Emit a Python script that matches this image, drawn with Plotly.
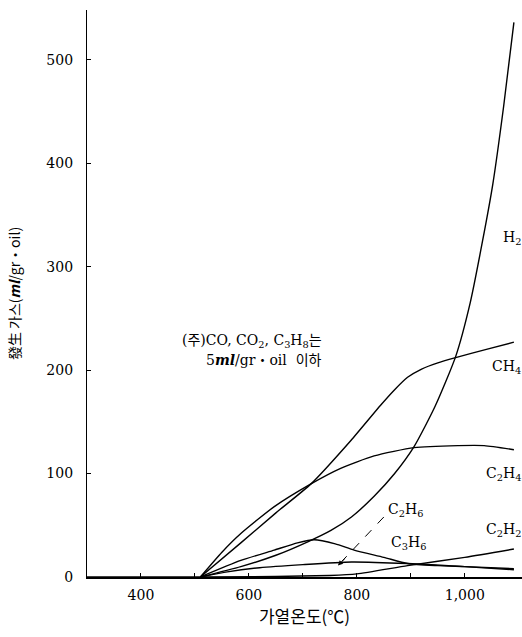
import plotly.graph_objects as go

# ---- data ----
t_h2 = [510, 585, 650, 709, 752, 790, 832, 870, 906, 945, 983, 1010, 1033, 1052, 1072, 1091]
v_h2 = [0, 10, 21, 34, 45, 58, 78, 100, 126, 165, 213, 265, 325, 380, 455, 536]

t_ch4 = [510, 585, 650, 715, 789, 844, 870, 894, 920, 950, 983, 1040, 1091]
v_ch4 = [0, 33, 62, 90, 132, 166, 181, 193, 201, 207, 212, 220, 227]

t_c2h4 = [510, 550, 585, 647, 715, 770, 832, 906, 987, 1036, 1091]
v_c2h4 = [0, 24, 42, 68, 90, 105, 117, 125, 127, 127, 123]

t_c3h6 = [510, 585, 647, 690, 721, 760, 795, 850, 894, 950, 1000, 1091]
v_c3h6 = [0, 16, 26, 33, 36, 32, 26, 19, 13, 11, 10, 8]

t_c2h6 = [510, 560, 620, 700, 790, 894, 1000, 1091]
v_c2h6 = [0, 5, 9, 12, 14.5, 13, 10, 7]

t_c2h2 = [510, 650, 750, 800, 894, 1000, 1091]
v_c2h2 = [0, 0.5, 1.5, 3, 11, 19, 27]

t_base = [300, 510]
v_base = [0, 0]

x_tickvals = [400, 600, 800, 1000]
x_ticktext = ["400", "600", "800", "1,000"]
x_minor = [500, 700, 900]
y_tickvals = [0, 100, 200, 300, 400, 500]
y_ticktext = ["0", "100", "200", "300", "400", "500"]

series = [
    ("H2", t_h2, v_h2),
    ("CH4", t_ch4, v_ch4),
    ("C2H4", t_c2h4, v_c2h4),
    ("C3H6", t_c3h6, v_c3h6),
    ("C2H6", t_c2h6, v_c2h6),
    ("C2H2", t_c2h2, v_c2h2),
    ("base", t_base, v_base),
]

SERIF = "DejaVu Serif, Liberation Serif, serif"
KR = "Noto Sans CJK KR, sans-serif"

fig = go.Figure()
for name, t, v in series:
    fig.add_trace(go.Scatter(
        x=t, y=v, mode="lines", name=name,
        line=dict(color="black", width=1.4, shape="spline", smoothing=0.6),
        hoverinfo="skip", showlegend=False, cliponaxis=False,
    ))

labels = [
    ("H<sub>2</sub>", 1087, 328),
    ("CH<sub>4</sub>", 1077, 203),
    ("C<sub>2</sub>H<sub>4</sub>", 1072, 100),
    ("C<sub>2</sub>H<sub>6</sub>", 891, 65),
    ("C<sub>3</sub>H<sub>6</sub>", 896, 33),
    ("C<sub>2</sub>H<sub>2</sub>", 1072, 45),
]
for txt, x, y in labels:
    fig.add_annotation(x=x, y=y, text=txt, showarrow=False,
                       font=dict(family=SERIF, size=14, color="black"),
                       xanchor="center", yanchor="middle")

# dashed leader + arrow head for C2H6
fig.add_shape(type="line", x0=850, y0=58, x1=772, y1=15, xref="x", yref="y",
              line=dict(color="black", width=1, dash="dash"))
fig.add_annotation(x=765, y=11, ax=780, ay=19, axref="x", ayref="y",
                   text="", showarrow=True, arrowhead=2, arrowsize=1,
                   arrowwidth=1, arrowcolor="black")

# note text
fig.add_annotation(
    x=740, y=228, xref="x", yref="y", xanchor="right", yanchor="middle",
    text="(주)CO, CO<sub>2</sub>, C<sub>3</sub>H<sub>8</sub>는", showarrow=False,
    font=dict(family=SERIF + ", " + KR, size=14, color="black"))
fig.add_annotation(
    x=740, y=210, xref="x", yref="y", xanchor="right", yanchor="middle",
    text="5<b><i>ml</i></b>/gr・oil  이하", showarrow=False,
    font=dict(family=SERIF + ", " + KR, size=14, color="black"))

fig.update_layout(
    width=522, height=637,
    margin=dict(l=87, r=0, t=10, b=60),
    paper_bgcolor="white", plot_bgcolor="white",
    showlegend=False,
    font=dict(family=SERIF, size=13, color="black"),
)
fig.update_xaxes(
    range=[300, 1106], tickvals=x_tickvals, ticktext=x_ticktext,
    showgrid=False, zeroline=False, showline=True, linecolor="black", linewidth=2,
    ticks="inside", ticklen=4, tickcolor="black",
    minor=dict(tickvals=x_minor, ticks="inside", ticklen=4, tickcolor="black"),
    tickfont=dict(family=SERIF, size=14),
    ticklabelstandoff=4,
    title=dict(text="가열온도(℃)", font=dict(family=KR, size=17), standoff=6),
)
fig.update_yaxes(
    range=[0, 548], tickvals=y_tickvals, ticktext=y_ticktext,
    showgrid=False, zeroline=False, showline=True, linecolor="black", linewidth=1.2,
    ticks="inside", ticklen=4, tickcolor="black",
    ticklabelstandoff=10,
    tickfont=dict(family=SERIF, size=14),
    title=dict(text="發生 가스(<b><i>ml</i></b>/gr・oil)", font=dict(family=KR, size=14), standoff=22),
)

fig.write_html("out.html")
